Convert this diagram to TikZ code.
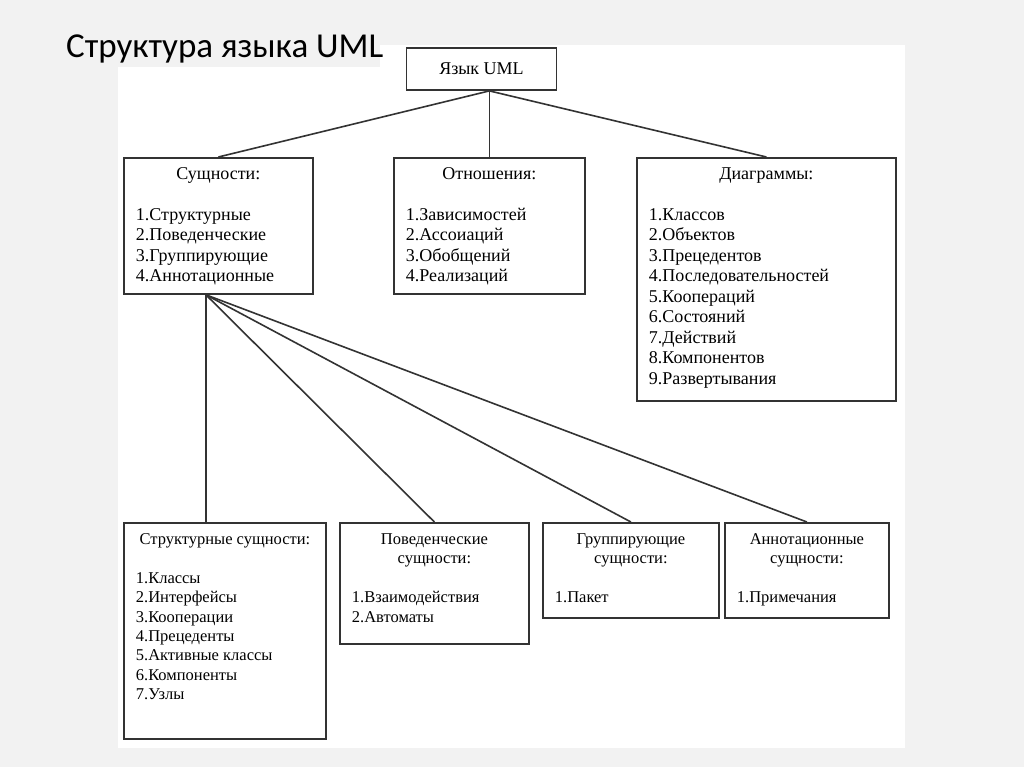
\documentclass[tikz,border=0pt]{standalone}
\usepackage{fontspec}
\setmainfont{Liberation Serif}
\newfontfamily\titlefont{Carlito}
\usepackage{tikz}
\usetikzlibrary{positioning,calc}
\definecolor{slidegray}{HTML}{F2F2F2}
\definecolor{inkgray}{HTML}{333333}
\newcommand{\bigsize}{\fontsize{18}{20.5}\selectfont}
\newcommand{\smallsize}{\fontsize{16.5}{19.4}\selectfont}
% box body: width, height, heading, list
\newcommand{\entry}[4]{\parbox[c][#2][t]{#1}{\centering\rule{0pt}{21.5pt}#3\par
  \vspace{\baselineskip}\raggedright\leftskip=12pt #4\par}}

\begin{document}
\begin{tikzpicture}[x=1pt, y=-1pt, line join=miter,
   box/.style={draw=inkgray, line width=1.8pt, inner sep=0pt, anchor=north west},
   link/.style={draw=inkgray, line width=1.6pt}]
  \useasboundingbox (0,0) rectangle (1024,767);
  \fill[slidegray] (0,0) rectangle (1024,767);
  \fill[white] (118,45) rectangle (905,748);
  \fill[slidegray] (118,44) rectangle (380,67);
  \node[anchor=base west, inner sep=0pt, font=\titlefont\fontsize{35}{40}\selectfont] (title) at (66,58) {Структура языка UML};

  \node[draw=inkgray, line width=1.8pt, minimum width=150pt, minimum height=42pt, font=\bigsize] (uml) at (481.5,69) {Язык UML};

  \node[box, font=\bigsize] (ent) at (123,157) {\entry{189pt}{136pt}{Сущности:}
    {1.Структурные\\2.Поведенческие\\3.Группирующие\\4.Аннотационные}};
  \node[box, font=\bigsize] (rel) at (393,157) {\entry{191pt}{136pt}{Отношения:}
    {1.Зависимостей\\2.Ассоиаций\\3.Обобщений\\4.Реализаций}};
  \node[box, font=\bigsize] (diag) at (636,157) {\entry{259pt}{243pt}{Диаграммы:}
    {1.Классов\\2.Объектов\\3.Прецедентов\\4.Последовательностей\\5.Коопераций\\6.Состояний\\7.Действий\\8.Компонентов\\9.Развертывания}};

  \node[box, font=\smallsize] (str) at (123,522) {\entry{202pt}{216pt}{Структурные сущности:}
    {1.Классы\\2.Интерфейсы\\3.Кооперации\\4.Прецеденты\\5.Активные классы\\6.Компоненты\\7.Узлы}};
  \node[box, font=\smallsize] (beh) at (339,522) {\entry{189pt}{121pt}{Поведенческие\\сущности:}
    {1.Взаимодействия\\2.Автоматы}};
  \node[box, font=\smallsize] (grp) at (542,522) {\entry{176pt}{95pt}{Группирующие\\сущности:}
    {1.Пакет}};
  \node[box, font=\smallsize] (ann) at (724,522) {\entry{164pt}{95pt}{Аннотационные\\сущности:}
    {1.Примечания}};

  \coordinate (hub) at (uml.south -| rel.north);
  \path[link] (hub) -- (ent.north);
  \path[link] (hub) -- (rel.north);
  \path[link] (hub) -- (diag.north);

  \coordinate (fan) at ([xshift=-12.5pt]ent.south);
  \path[link] (fan) -- (fan |- str.north);
  \path[link] (fan) -- (beh.north);
  \path[link] (fan) -- (grp.north);
  \path[link] (fan) -- (ann.north);
\end{tikzpicture}
\end{document}
